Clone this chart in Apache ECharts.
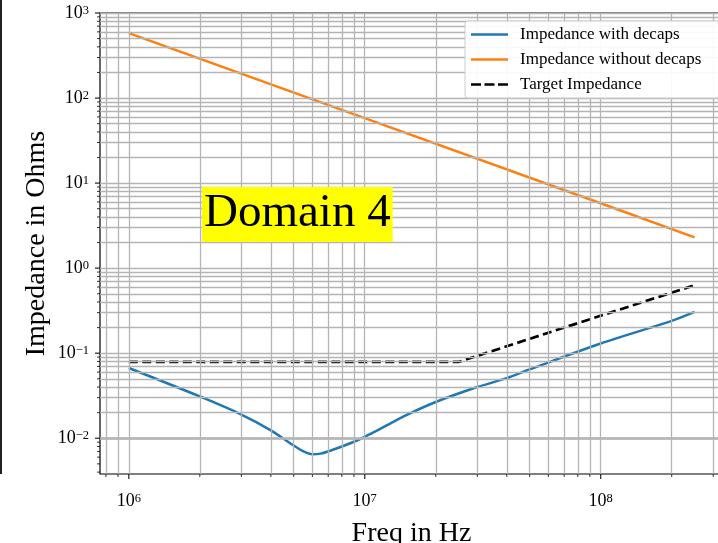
<!DOCTYPE html>
<html>
<head>
<meta charset="utf-8">
<script src="https://cdn.jsdelivr.net/npm/echarts@6/dist/echarts.min.js"></script>
<style>
  html, body { margin: 0; padding: 0; background: #fff; }
  #chart { width: 718px; height: 543px; }
</style>
</head>
<body>
<div id="chart"></div>
<script>
// PDN impedance sweep, log-log
const freqWith = [1e6, 2e6, 3e6, 4e6, 5e6, 5.5e6, 6e6, 6.5e6, 7e6, 8e6, 9e6, 1e7, 1.2e7, 1.5e7, 2e7, 3e7, 4e7, 5e7, 1e8, 2e8, 2.5e8];
const zWith    = [0.067, 0.031, 0.019, 0.0124, 0.0082, 0.0070, 0.0065, 0.0066, 0.0070, 0.0080, 0.0091, 0.0104, 0.0135, 0.0187, 0.0267, 0.040, 0.051, 0.0645, 0.13, 0.24, 0.306];

const freqWithout = [1e6, 1e7, 1e8, 2.5e8];
const zWithout    = [580, 58, 5.8, 2.3];

const freqTarget = [1e6, 2.5e7, 2.5e8];
const zTarget    = [0.079, 0.079, 0.63];

const seriesNames = ['Impedance with decaps', 'Impedance without decaps', 'Target Impedance'];

const xRange = [7.55e5, 3.3e8];
const yRange = [0.0038, 1000];

const xMajor = [1e6, 1e7, 1e8];
const xMinor = [8e5, 9e5, 2e6, 3e6, 4e6, 5e6, 6e6, 7e6, 8e6, 9e6, 2e7, 3e7, 4e7, 5e7, 6e7, 7e7, 8e7, 9e7, 2e8, 3e8];
const yMajor = [1e-2, 1e-1, 1, 10, 100, 1000];
const yMinor = [0.004, 0.005, 0.006, 0.007, 0.008, 0.009,
                0.02, 0.03, 0.04, 0.05, 0.06, 0.07, 0.08, 0.09,
                0.2, 0.3, 0.4, 0.5, 0.6, 0.7, 0.8, 0.9,
                2, 3, 4, 5, 6, 7, 8, 9,
                20, 30, 40, 50, 60, 70, 80, 90,
                200, 300, 400, 500, 600, 700, 800, 900];

const FONT = "'Liberation Serif', 'Times New Roman', serif";
const GRID_COLOR = '#b4b4b4';
const GRID_W = 1.3;
const LINE_W = 2.5;

const zip = (xs, ys) => xs.map((x, i) => [x, ys[i]]);

function powLabel(v) {
  const l = Math.log10(v);
  const e = Math.round(l);
  if (Math.abs(l - e) > 1e-6) return '';
  return '{a|10}{b|' + (e < 0 ? '\u2212' + (-e) : String(e)) + '}';
}

const richPow = {
  a: { fontSize: 18, fontFamily: FONT, color: '#000', lineHeight: 18, padding: [6, 0, 0, 0], verticalAlign: 'bottom' },
  b: { fontSize: 12.5, fontFamily: FONT, color: '#000', lineHeight: 12, verticalAlign: 'top' }
};

const chart = echarts.init(document.getElementById('chart'), null, { renderer: 'canvas' });

const gridLines = [];
xMajor.concat(xMinor).forEach(v => gridLines.push({ xAxis: v }));
yMajor.concat(yMinor).forEach(v => gridLines.push({ yAxis: v }));

const tickSeries = (data, size, offset) => ({
  type: 'scatter', data, symbol: 'rect', symbolSize: size, symbolOffset: offset,
  itemStyle: { color: '#000' }, silent: true, clip: false, z: 4, animation: false
});

// legend handles: solid bar for the curves, three dashes for the target
const DASH_ICON = 'path://M0,0h10v2.5h-10z M13.5,0h10v2.5h-10z M27,0h10v2.5h-10z';

chart.setOption({
  animation: false,
  backgroundColor: '#fff',
  grid: {
    left: 100, top: 13, width: 623, height: 461,
    outerBoundsMode: 'none', containLabel: false,
    show: true, borderColor: '#000', borderWidth: 1.2, backgroundColor: 'transparent'
  },
  xAxis: {
    type: 'log', logBase: 10, min: xRange[0], max: xRange[1],
    name: 'Freq in Hz', nameLocation: 'middle', nameGap: 46,
    nameTextStyle: { fontFamily: FONT, fontSize: 28, color: '#000' },
    axisLine: { show: false }, axisTick: { show: false }, splitLine: { show: false },
    axisLabel: { formatter: powLabel, rich: richPow, margin: 18, showMinLabel: false, showMaxLabel: false }
  },
  yAxis: {
    type: 'log', logBase: 10, min: yRange[0], max: yRange[1],
    name: 'Impedance in Ohms', nameLocation: 'middle', nameGap: 49, nameRotate: 90,
    nameMoveOverlap: false,
    nameTextStyle: { fontFamily: FONT, fontSize: 28, color: '#000' },
    axisLine: { show: false }, axisTick: { show: false }, splitLine: { show: false },
    axisLabel: { formatter: powLabel, rich: richPow, margin: 11, showMinLabel: false, showMaxLabel: true }
  },
  legend: {
    orient: 'vertical', left: 465, top: 21, z: 20,
    itemWidth: 37, itemHeight: 2.5, itemGap: 6,
    padding: [4, 20, 4, 6],
    backgroundColor: 'rgba(255,255,255,0.92)', borderColor: '#cccccc', borderWidth: 1, borderRadius: 3,
    itemStyle: { borderWidth: 0 },
    textStyle: { fontFamily: FONT, fontSize: 17, color: '#000', lineHeight: 19, padding: [0, 0, 0, 7] },
    data: [
      { name: seriesNames[0], icon: 'rect' },
      { name: seriesNames[1], icon: 'rect' },
      { name: seriesNames[2], icon: DASH_ICON }
    ]
  },
  graphic: [
    { type: 'line', shape: { x1: 1, y1: 0, x2: 1, y2: 474 }, style: { stroke: '#222', lineWidth: 2 }, silent: true },
    {
      type: 'text', left: 202, top: 187, z: 10,
      style: { text: 'Domain 4', font: '47px ' + FONT, fill: '#000', backgroundColor: '#ffff00', padding: [3, 2, 5, 2] }
    }
  ],
  series: [
    {
      type: 'line', data: [], silent: true, z: 1,
      markLine: {
        silent: true, symbol: 'none', label: { show: false }, animation: false,
        lineStyle: { color: GRID_COLOR, width: GRID_W, type: 'solid' },
        data: gridLines
      }
    },
    tickSeries(xMajor.map(v => [v, yRange[0]]), [1.3, 5], [0, 2.5]),
    tickSeries(xMinor.map(v => [v, yRange[0]]), [1, 3], [0, 1.5]),
    tickSeries(yMajor.map(v => [xRange[0], v]), [5, 1.3], [-2.5, 0]),
    tickSeries(yMinor.map(v => [xRange[0], v]), [3, 1], [-1.5, 0]),
    {
      name: seriesNames[0], type: 'line', data: zip(freqWith, zWith), smooth: 0.3,
      symbol: 'none', z: 3, lineStyle: { color: '#1f77b4', width: LINE_W }, itemStyle: { color: '#1f77b4' }
    },
    {
      name: seriesNames[1], type: 'line', data: zip(freqWithout, zWithout),
      symbol: 'none', z: 3, lineStyle: { color: '#ff7f0e', width: LINE_W }, itemStyle: { color: '#ff7f0e' }
    },
    {
      name: seriesNames[2], type: 'line', data: zip(freqTarget, zTarget),
      symbol: 'none', z: 3, lineStyle: { color: '#000', width: 2.7, type: [9, 4.5] }, itemStyle: { color: '#000' }
    }
  ]
});
</script>
</body>
</html>
